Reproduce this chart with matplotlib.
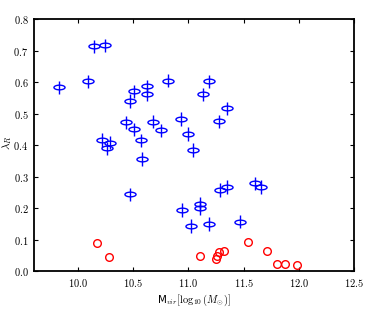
import numpy as np
import matplotlib
matplotlib.use("Agg")
import matplotlib.pyplot as plt
from matplotlib.path import Path
from matplotlib.transforms import Affine2D

plt.rcParams['mathtext.fontset'] = 'cm'

# fast rotators (blue ellipses with error bars)
fast_mass = [9.83, 10.14, 10.24, 10.09, 10.51, 10.62, 10.62, 10.47, 10.81,
             10.43, 10.51, 10.68, 10.75, 10.93, 10.22, 10.29, 10.26, 10.57,
             10.58, 11.19, 11.13, 11.35, 11.28, 11.00, 11.04, 10.47, 10.94,
             11.10, 11.10, 11.02, 11.19, 11.29, 11.35, 11.60, 11.66, 11.47]
fast_lam = [0.584, 0.714, 0.717, 0.603, 0.571, 0.587, 0.561, 0.540, 0.604,
            0.472, 0.450, 0.474, 0.447, 0.483, 0.416, 0.407, 0.390, 0.415,
            0.356, 0.603, 0.561, 0.517, 0.476, 0.435, 0.384, 0.244, 0.194,
            0.213, 0.200, 0.143, 0.149, 0.257, 0.267, 0.279, 0.267, 0.156]
fast_err = 0.021

# slow rotators (red circles)
slow_mass = [10.17, 10.28, 11.10, 11.25, 11.26, 11.28, 11.32, 11.54, 11.71,
             11.80, 11.87, 11.98]
slow_lam = [0.089, 0.045, 0.048, 0.038, 0.048, 0.059, 0.063, 0.092, 0.063,
            0.022, 0.022, 0.019]

xticks = [10.0, 10.5, 11.0, 11.5, 12.0, 12.5]
yticks = [0.0, 0.1, 0.2, 0.3, 0.4, 0.5, 0.6, 0.7, 0.8]

ellipse = Path.unit_circle().transformed(Affine2D().scale(1.0, 0.42))

fig = plt.figure(figsize=(3.65, 3.14), dpi=100)
ax = fig.add_axes([0.093, 0.137, 0.877, 0.802])

ax.errorbar(fast_mass, fast_lam, yerr=fast_err, fmt='none', ecolor='#0000ff',
            elinewidth=1.0, capsize=0)
ax.plot(fast_mass, fast_lam, linestyle='none', marker=ellipse, markersize=8,
        markerfacecolor='none', markeredgecolor='#0000ff', markeredgewidth=1.0)
ax.plot(slow_mass, slow_lam, linestyle='none', marker='o', markersize=5.5,
        markerfacecolor='none', markeredgecolor='#ff0000', markeredgewidth=1.0)

ax.set_xlim(9.6, 12.5)
ax.set_ylim(0.0, 0.8)
ax.set_xticks(xticks)
ax.set_xticklabels(['$%.1f$' % v for v in xticks])
ax.set_yticks(yticks)
ax.set_yticklabels(['$%.1f$' % v for v in yticks])
ax.tick_params(direction='in', top=True, right=True, length=3, width=0.8,
               labelsize=7.5, pad=4)
for s in ax.spines.values():
    s.set_linewidth(1.3)

ax.set_xlabel(r'M$_{vir}[\log_{10}(M_{\odot})]$', fontsize=7.5, labelpad=3)
ax.set_ylabel(r'$\lambda_R$', fontsize=8)
ax.yaxis.set_label_coords(-0.062, 0.51)

fig.savefig('out.png', dpi=100)
